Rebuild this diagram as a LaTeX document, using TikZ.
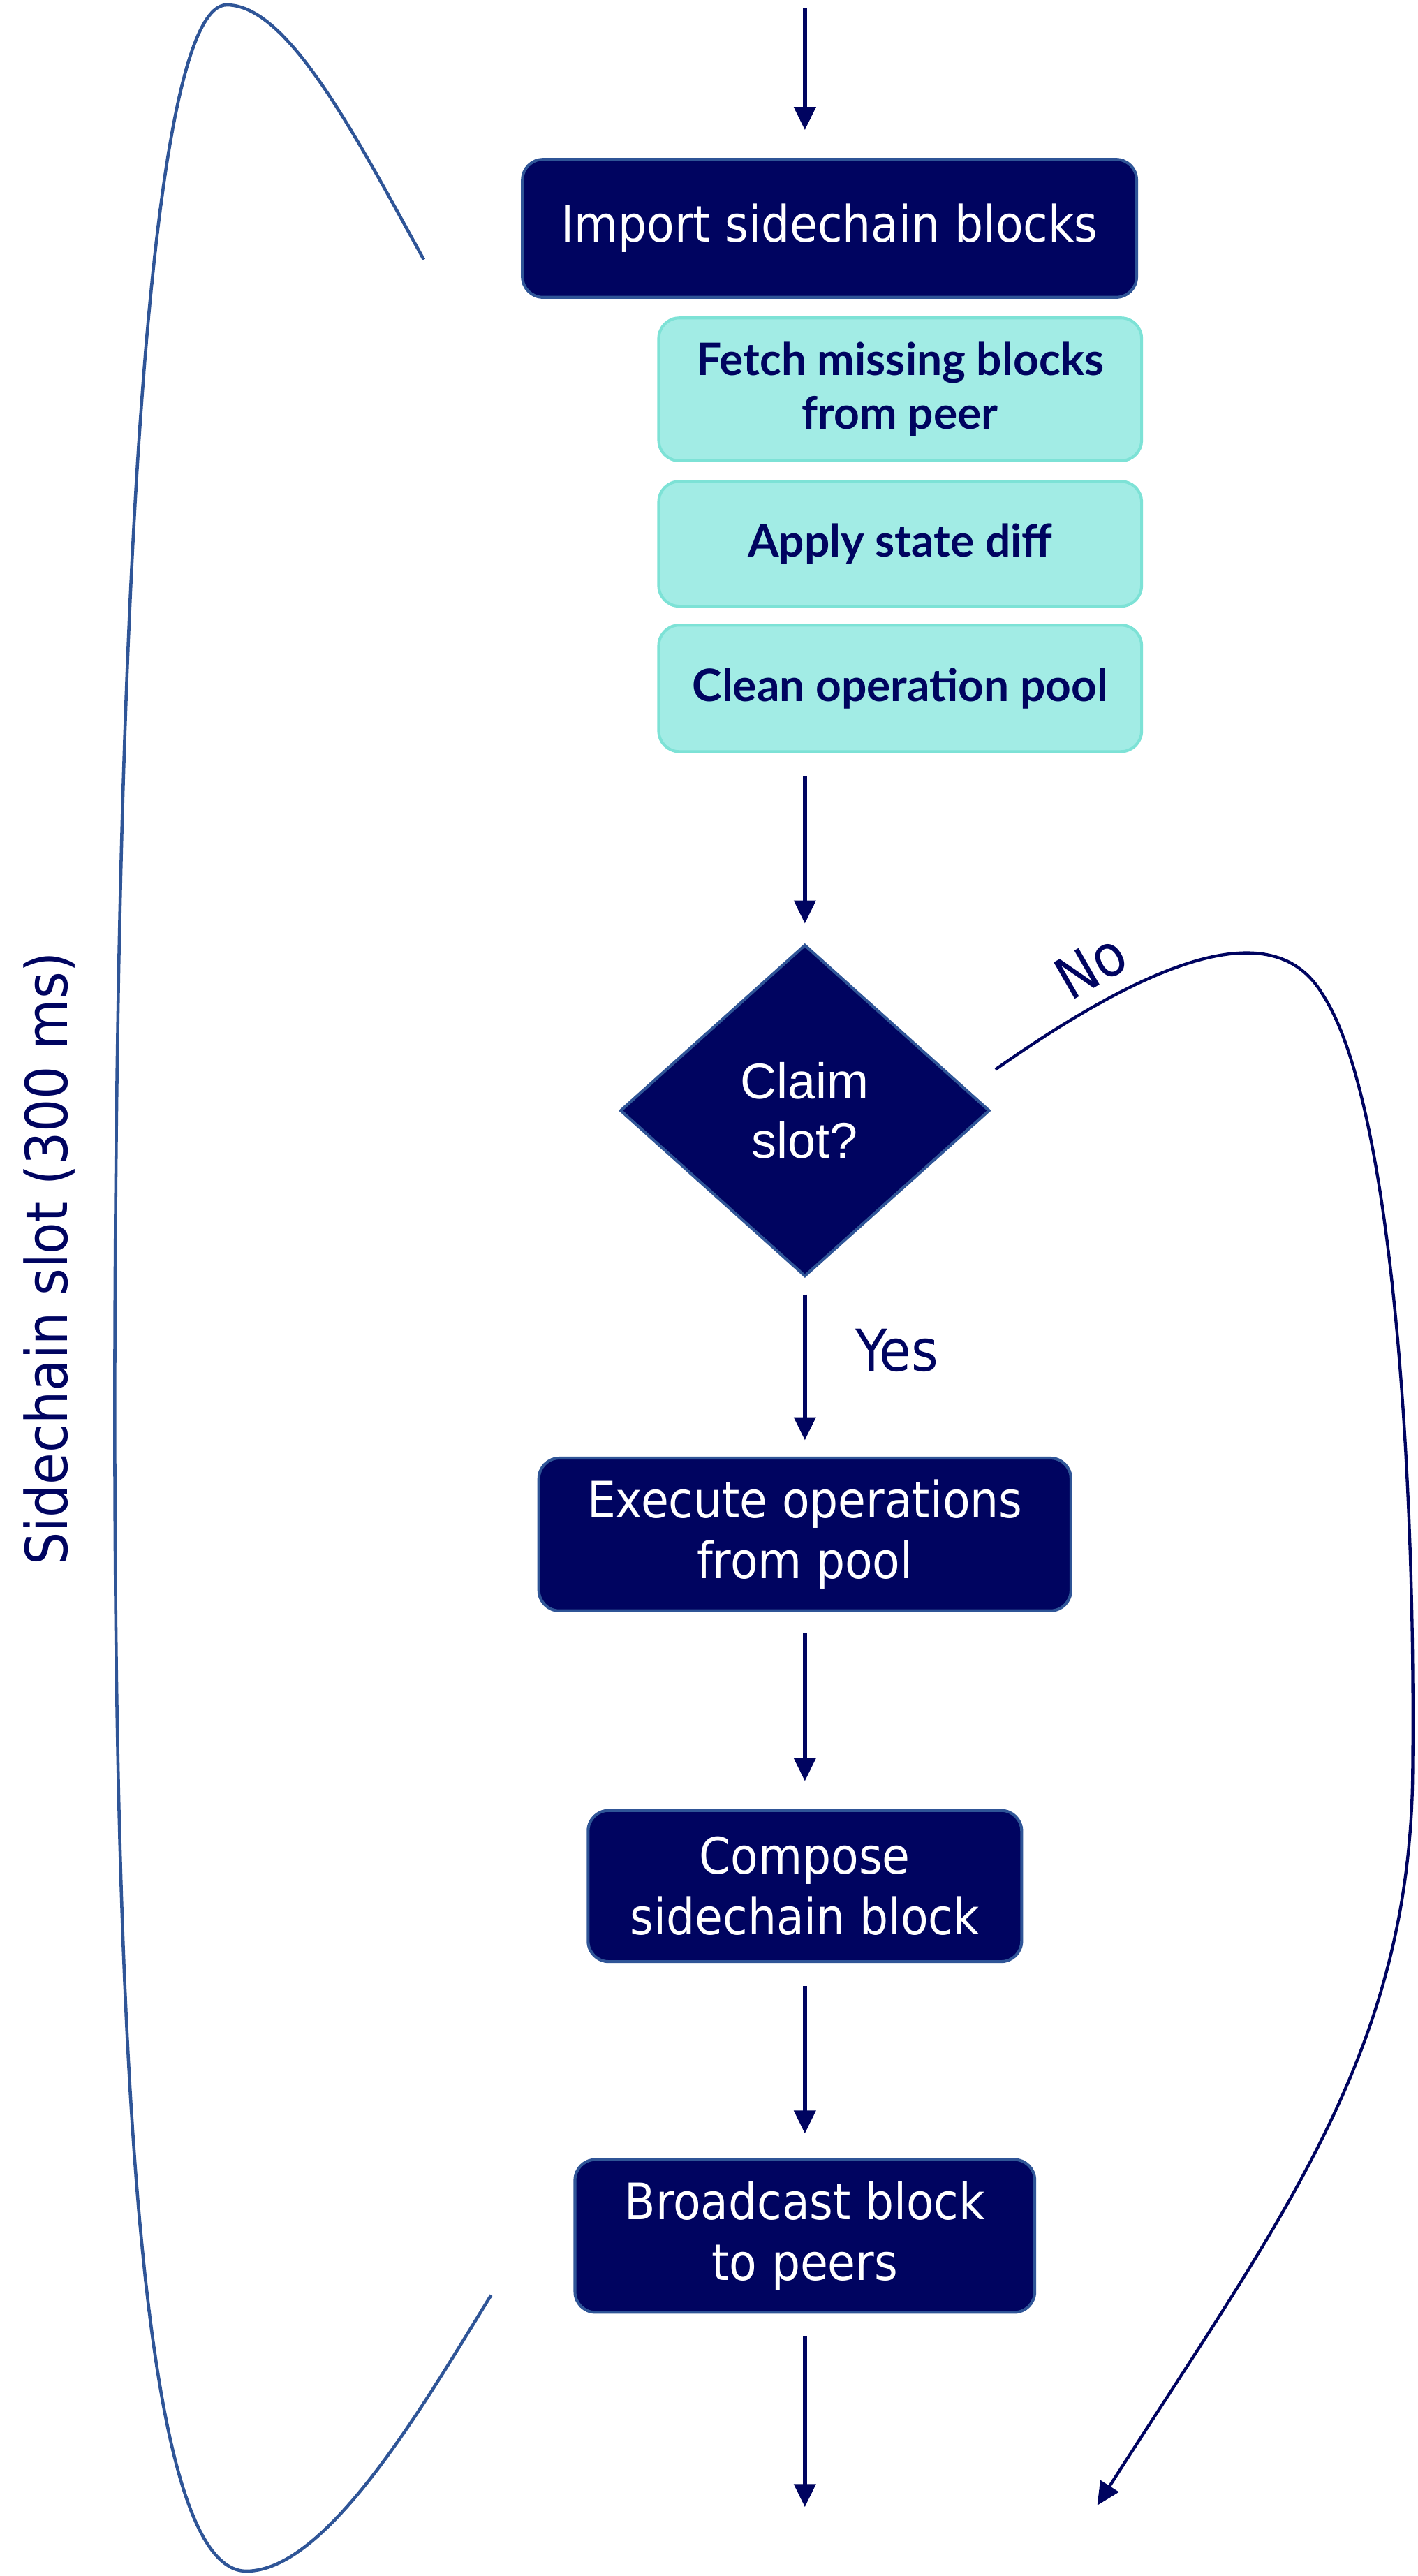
\documentclass[tikz,border=0pt]{standalone}
\usepackage{fontspec}
\setmainfont{Liberation Sans}
\newfontfamily\boxfont{DejaVu Sans Condensed}
\newfontfamily\stepfont{Lato}
\usetikzlibrary{arrows.meta,shapes.geometric}
\definecolor{slotnavy}{RGB}{0,4,96}
\definecolor{slotedge}{RGB}{47,85,151}
\definecolor{stepfill}{RGB}{162,236,229}
\definecolor{stepedge}{RGB}{125,226,214}
\tikzset{
    mainbox/.style={draw=slotedge, fill=slotnavy, line width=1pt, rounded corners=0.25cm,
        text=white, align=center, inner sep=0pt,
        font=\boxfont\fontsize{17.4}{21}\selectfont},
    subbox/.style={draw=stepedge, fill=stepfill, line width=1pt, rounded corners=0.25cm,
        text=slotnavy, align=center, inner sep=0pt, minimum width=5.88cm,
        font=\stepfont\bfseries\fontsize{15.5}{19}\selectfont},
    decision/.style={diamond, draw=slotedge, fill=slotnavy, line width=1pt,
        text=white, align=center, inner sep=0pt, minimum width=4.5cm, minimum height=4.04cm,
        font=\fontsize{17.4}{20.5}\selectfont},
    flow/.style={draw=slotnavy, line width=1.3pt, -{Triangle[length=0.28cm,width=0.26cm]},
        shorten <=0.28cm, shorten >=0.28cm},
    slotline/.style={draw=slotedge, line width=1.1pt},
    tag/.style={text=slotnavy, font=\boxfont\fontsize{20}{24}\selectfont}
}
\begin{document}
\begin{tikzpicture}[x=0.02cm, y=-0.02cm]
    \useasboundingbox (0,0) rectangle (863,1568);
    % boxes
    \node[mainbox, minimum width=7.48cm, minimum height=1.68cm] (import) at (505,139) {Import sidechain blocks};
    \node[subbox, minimum height=1.74cm, font=\stepfont\bfseries\fontsize{15.5}{18.8}\selectfont] (fetch) at (548,237) {Fetch missing blocks\\from peer};
    \node[subbox, minimum height=1.52cm] (apply) at (548,331) {Apply state diff};
    \node[subbox, minimum height=1.54cm] (clean) at (548,419) {Clean operation pool};
    \node[decision] (claim) at (490,676) {Claim\\slot?};
    \node[mainbox, minimum width=6.48cm, minimum height=1.86cm] (execute) at (490,934) {Execute operations\\from pool};
    \node[mainbox, minimum width=5.28cm, minimum height=1.84cm] (compose) at (490,1148) {Compose\\sidechain block};
    \node[mainbox, minimum width=5.6cm, minimum height=1.86cm] (broadcast) at (490,1361) {Broadcast block\\to peers};
    % labels
    \node[tag, rotate=90] (slot) at (30,766) {Sidechain slot (300 ms)};
    \node[tag] (yes) at (546,822) {Yes};
    \node[tag, rotate=30, inner sep=0pt] (no) at (664,588) {No};
    % connectors
    \coordinate (entry) at (490,5);
    \coordinate (exit) at (490,1526);
    \draw[flow, shorten <=0pt, shorten >=0.34cm] (entry) -- (entry |- import.north);
    \draw[flow, shorten >=0.24cm] (clean.south -| claim.north) -- (claim.north);
    \draw[flow, shorten <=0.2cm, shorten >=0.2cm] (claim.south) -- (execute.north);
    \draw[flow, shorten <=0.26cm, shorten >=0.34cm] (execute.south) -- (compose.north);
    \draw[flow, shorten >=0.3cm] (compose.south) -- (broadcast.north);
    \draw[flow, shorten >=0pt] (broadcast.south) -- (exit);
    % no branch
    \coordinate (nostart) at (606,651);
    \coordinate (noend) at (668,1525);
    \draw[flow, shorten <=0pt, shorten >=0pt, line width=1.05pt] (nostart)
        .. controls (700,585) and (775,555) .. (805,605)
        .. controls (848,670) and (862,900) .. (860,1080)
        .. controls (858,1250) and (780,1350) .. (noend);
    % slot brace
    \coordinate (slottop) at (258,158);
    \coordinate (slotbottom) at (299,1397);
    \draw[slotline] (slottop)
        .. controls (215,80) and (175,3) .. (138,3)
        .. controls (95,3) and (72,300) .. (70,800)
        .. controls (68,1300) and (90,1565) .. (150,1565)
        .. controls (200,1565) and (260,1460) .. (slotbottom);
\end{tikzpicture}
\end{document}
